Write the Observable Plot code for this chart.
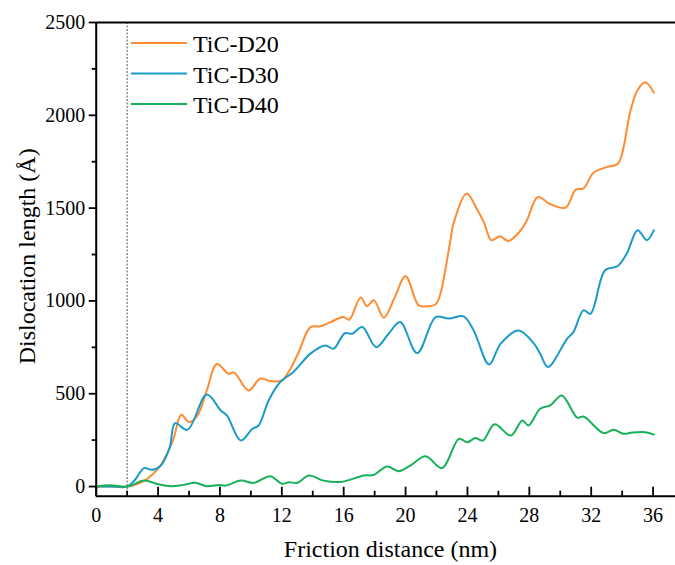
<!DOCTYPE html>
<html>
<head>
<meta charset="utf-8">
<script src="https://cdn.jsdelivr.net/npm/d3@7"></script>
<script src="https://cdn.jsdelivr.net/npm/@observablehq/plot@0.6"></script>
<style>
  body { margin: 0; background: #fff; }
  #chart { position: relative; width: 675px; height: 565px; }
  #chart svg { font-family: "Liberation Serif", "Times New Roman", serif; }
  #chart svg.overlay { position: absolute; left: 0; top: 0; pointer-events: none; }
</style>
</head>
<body>
<div id="chart"></div>
<script>
// Dislocation length versus friction distance for three TiC models
const seriesNames = ["TiC-D20", "TiC-D30", "TiC-D40"];
const seriesColors = ["#ff8c32", "#1a9bc6", "#18b058"];

const d20X = [0, 1, 2, 2.6, 3.1, 3.6, 4.15, 4.6, 5.0, 5.5, 6.0, 6.55, 7.15, 7.8, 8.55, 8.9, 9.85, 10.6, 11.3, 12.0, 13.0, 13.85, 14.5, 15.15, 16.0, 16.35, 17.1, 17.5, 17.95, 18.6, 19.3, 20.0, 20.85, 21.4, 21.95, 22.25, 22.9, 23.1, 23.95, 24.65, 25.05, 25.55, 26.1, 26.65, 27.45, 27.85, 28.55, 29.35, 30.35, 31.0, 31.5, 32.15, 33.05, 33.7, 34.0, 34.55, 35.0, 35.5, 36.05];
const d20Y = [0, 0, 0, 12, 30, 62, 112, 180, 257, 387, 347, 383, 518, 660, 608, 615, 518, 581, 568, 572, 707, 859, 863, 886, 913, 899, 1018, 971, 1003, 910, 1020, 1133, 976, 971, 982, 1039, 1327, 1417, 1579, 1489, 1426, 1327, 1348, 1323, 1381, 1435, 1560, 1521, 1503, 1600, 1606, 1690, 1722, 1737, 1795, 2028, 2136, 2178, 2122];

const d30X = [0, 1, 2, 2.5, 3.1, 3.6, 4.15, 4.75, 5.1, 5.9, 7.15, 8.05, 8.45, 9.35, 10.1, 10.5, 11.15, 11.9, 12.75, 13.85, 14.8, 15.35, 15.8, 16.1, 16.55, 17.2, 18.1, 18.9, 19.65, 20.75, 21.95, 22.8, 23.75, 24.4, 25.4, 26.15, 27.3, 28.3, 28.7, 29.2, 30.45, 30.85, 31.5, 31.95, 32.9, 33.7, 34.3, 35.0, 35.6, 36.05];
const d30Y = [0, 0, 0, 35, 99, 90, 111, 210, 341, 306, 496, 410, 383, 248, 311, 329, 464, 563, 617, 716, 760, 743, 797, 827, 823, 859, 751, 823, 886, 719, 913, 905, 917, 841, 658, 770, 841, 770, 716, 644, 797, 832, 949, 931, 1165, 1187, 1255, 1381, 1327, 1381];

const d40X = [0, 0.9, 2, 3.1, 3.95, 4.8, 5.65, 6.4, 7.15, 7.95, 8.35, 9.35, 10.2, 11.25, 12.0, 12.45, 13.0, 13.75, 14.7, 15.8, 17.3, 17.95, 18.8, 19.55, 20.3, 21.3, 22.35, 23.45, 24.0, 24.5, 25.0, 25.75, 26.8, 27.55, 27.95, 28.7, 29.35, 30.1, 31.1, 31.5, 32.8, 33.45, 34.1, 34.65, 35.5, 36.05];
const d40Y = [0, 7, 0, 32, 14, 2, 9, 20, 2, 9, 5, 32, 20, 56, 15, 23, 20, 59, 32, 25, 59, 63, 108, 83, 113, 163, 99, 257, 239, 261, 248, 336, 275, 356, 329, 419, 437, 491, 371, 377, 288, 306, 284, 291, 293, 280];

const xTicks = [0, 4, 8, 12, 16, 20, 24, 28, 32, 36];
const xMinorTicks = [2, 6, 10, 14, 18, 22, 26, 30, 34];
const yTicks = [0, 500, 1000, 1500, 2000, 2500];
const yMinorTicks = [250, 750, 1250, 1750, 2250];
const xDomain = [0, 37.45];
const yDomain = [-52, 2500];
const startLineX = 2;

const xTitle = "Friction distance (nm)";
const yTitle = "Dislocation length (Å)";

// Long-format rows for Plot
const seriesX = [d20X, d30X, d40X];
const seriesY = [d20Y, d30Y, d40Y];
const rows = seriesNames.flatMap((name, s) =>
  seriesX[s].map((x, i) => ({series: name, x, y: seriesY[s][i]}))
);

const FONT = "Liberation Serif, Times New Roman, serif";
const W = 675, H = 565;
const mL = 95.7, mR = 0, mT = 22, mB = 69.3;
const frameH = H - mT - mB;
const plain = d => String(d);

const chart = Plot.plot({
  width: W,
  height: H,
  marginLeft: mL,
  marginRight: mR,
  marginTop: mT,
  marginBottom: mB,
  style: {fontFamily: FONT, fontSize: "20px", color: "#000", background: "#fff", overflow: "visible"},
  x: {domain: xDomain},
  y: {domain: yDomain},
  color: {domain: seriesNames, range: seriesColors},
  marks: [
    Plot.ruleX([startLineX], {stroke: "#555", strokeWidth: 1, strokeDasharray: "2,1.5"}),
    Plot.line(rows, {x: "x", y: "y", z: "series", stroke: "series", curve: "catmull-rom", strokeWidth: 2}),
    // y axis: outward ticks
    Plot.axisY(yTicks, {tickSize: 7, tickPadding: 4, tickFormat: plain, fontSize: 20, fontFamily: FONT, strokeWidth: 1.8, label: null}),
    Plot.axisY(yMinorTicks, {tickSize: 4, tickFormat: () => "", strokeWidth: 1.8, label: null}),
    // x axis: inward ticks
    Plot.tickX(xTicks, {x: d => d, insetTop: frameH - 9, strokeWidth: 1.8}),
    Plot.tickX(xMinorTicks, {x: d => d, insetTop: frameH - 5, strokeWidth: 1.8}),
    Plot.axisX(xTicks, {tickSize: 0, tickPadding: 12, tickFormat: plain, fontSize: 20, fontFamily: FONT, label: null}),
    // axis lines (left, bottom) and top border
    Plot.ruleX([xDomain[0]], {strokeWidth: 2}),
    Plot.ruleY([yDomain[0]], {strokeWidth: 2}),
    Plot.ruleY([yDomain[1]], {strokeWidth: 2}),
    // axis titles
    Plot.text([xTitle], {text: d => d, frameAnchor: "bottom", textAnchor: "middle", lineAnchor: "middle", dx: 4.6, dy: 53, fontSize: 24, fontFamily: FONT}),
    Plot.text([yTitle], {text: d => d, frameAnchor: "left", textAnchor: "middle", lineAnchor: "middle", rotate: -90, dx: -69.1, dy: -3, fontSize: 24, fontFamily: FONT})
  ]
});
chart.setAttribute("font-family", FONT);

const root = document.getElementById("chart");
root.appendChild(chart);

// Legend in the upper-left corner of the plot area
const legend = d3.select(root).append("svg")
  .attr("class", "overlay")
  .attr("width", W)
  .attr("height", H);
const entries = legend.selectAll("g").data(seriesNames).join("g")
  .attr("transform", (d, i) => `translate(131,${43 + i * 30.5})`);
entries.append("line")
  .attr("x1", 0).attr("x2", 56).attr("y1", 0).attr("y2", 0)
  .attr("stroke", (d, i) => seriesColors[i])
  .attr("stroke-width", 2);
entries.append("text")
  .attr("x", 62).attr("y", 9)
  .attr("font-family", FONT)
  .attr("font-size", 24)
  .attr("fill", "#000")
  .text(d => d);
</script>
</body>
</html>
